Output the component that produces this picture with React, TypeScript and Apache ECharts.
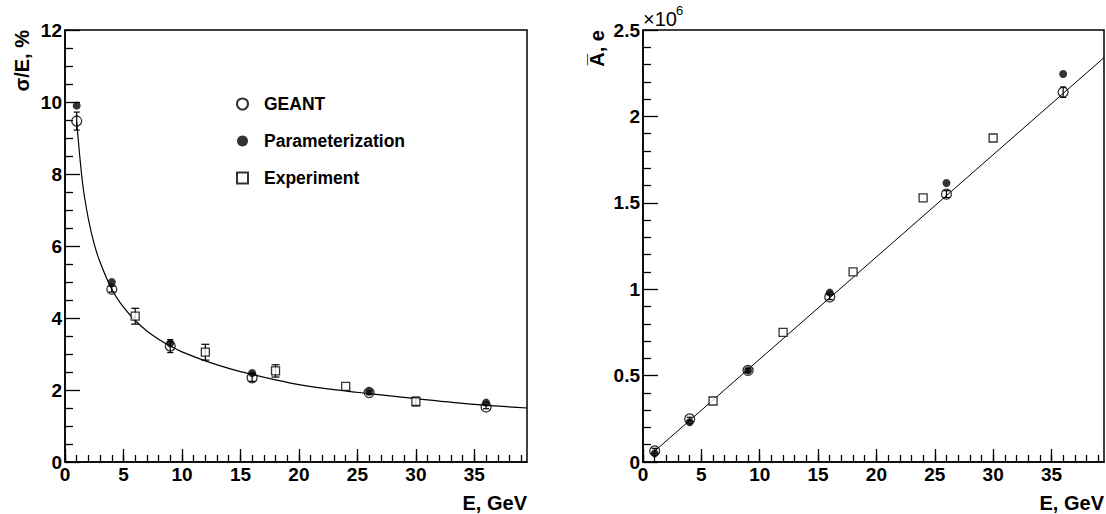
import React, { useEffect, useRef } from "react";
import * as echarts from "echarts";

// ---- Data ----
const energyGeant = [1, 4, 9, 16, 26, 36];
const resGeant = [9.47, 4.8, 3.22, 2.34, 1.93, 1.53];
const resGeantErr = [0.25, 0.08, 0.18, 0.1, 0.05, 0.05];
const energyParam = [1, 4, 9, 16, 26, 36];
const resParam = [9.9, 5.0, 3.3, 2.47, 1.95, 1.65];
const energyExp = [6, 12, 18, 24, 30];
const resExp = [4.05, 3.05, 2.53, 2.1, 1.68];
const resExpErr = [0.22, 0.22, 0.17, 0.0, 0.12];
const resFitE = [1, 1.5, 2, 2.5, 3, 4, 5, 6, 7, 8, 9, 10, 12, 14, 16, 18, 20, 23, 26, 30, 35, 39.5];
const resFitV = [9.45, 7.75, 6.75, 6.05, 5.55, 4.8, 4.3, 3.93, 3.64, 3.41, 3.22, 3.06, 2.81, 2.6, 2.43, 2.28, 2.15, 2.01, 1.9, 1.76, 1.6, 1.5];

const ampGeant = [0.064, 0.249, 0.53, 0.955, 1.55, 2.14];
const ampGeantErr = [0.015, 0.01, 0.01, 0.015, 0.02, 0.03];
const ampParam = [0.05, 0.23, 0.53, 0.98, 1.615, 2.245];
const ampExp = [0.353, 0.75, 1.1, 1.528, 1.875];
const ampFitE = [1, 39.5];
const ampFitV = [0.063, 2.34];

const eMajorTicks = [0, 5, 10, 15, 20, 25, 30, 35];
const eMinorTicks = Array.from({ length: 40 }, (_, i) => i);
const eMax = 39.5;
const resTickStep = 2;
const resMax = 12;
const ampTickStep = 0.5;
const ampMax = 2.5;

const FONT = "'Liberation Sans', Arial, Helvetica, sans-serif";

const errRender = (capHalf: number) => (params: any, api: any) => {
  const x = api.value(0);
  const lo = api.value(1);
  const hi = api.value(2);
  const p1 = api.coord([x, lo]);
  const p2 = api.coord([x, hi]);
  const style = { stroke: "#000", lineWidth: 1.2, fill: null };
  return {
    type: "group",
    children: [
      { type: "line", shape: { x1: p1[0], y1: p1[1], x2: p2[0], y2: p2[1] }, style },
      { type: "line", shape: { x1: p1[0] - capHalf, y1: p1[1], x2: p1[0] + capHalf, y2: p1[1] }, style },
      { type: "line", shape: { x1: p2[0] - capHalf, y1: p2[1], x2: p2[0] + capHalf, y2: p2[1] }, style },
    ],
  };
};

const zip = (xs: number[], ys: number[]) => xs.map((x, i) => [x, ys[i]]);
const errData = (xs: number[], ys: number[], es: number[]) =>
  xs.map((x, i) => [x, ys[i] - es[i], ys[i] + es[i]]).filter((_, i) => es[i] > 0);

const labelStyle = { fontSize: 19, fontWeight: "bold" as const, color: "#000", fontFamily: FONT };

function majorX(gridIndex: number) {
  return {
    type: "value",
    gridIndex,
    min: 0,
    max: eMax,
    position: "bottom",
    axisLine: { show: true, lineStyle: { color: "#000", width: 1.5 } },
    axisTick: { show: true, inside: true, length: 13, customValues: eMajorTicks, lineStyle: { color: "#000", width: 1.3 } },
    axisLabel: { ...labelStyle, margin: 3, customValues: eMajorTicks },
    splitLine: { show: false },
  };
}
function minorX(gridIndex: number) {
  return {
    type: "value",
    gridIndex,
    min: 0,
    max: eMax,
    position: "bottom",
    offset: 0,
    axisLine: { show: false },
    axisTick: { show: true, inside: true, length: 7, customValues: eMinorTicks, lineStyle: { color: "#000", width: 1.3 } },
    axisLabel: { show: false },
    splitLine: { show: false },
  };
}
function yAx(gridIndex: number, max: number, interval: number, minorSplit: number) {
  return {
    type: "value",
    gridIndex,
    min: 0,
    max,
    interval,
    axisLine: { show: true, lineStyle: { color: "#000", width: 1.5 } },
    axisTick: { show: true, inside: true, length: 15, lineStyle: { color: "#000", width: 1.3 } },
    minorTick: { show: true, splitNumber: minorSplit, length: 8, lineStyle: { color: "#000", width: 1.3 } },
    axisLabel: { ...labelStyle, margin: 3 },
    splitLine: { show: false },
  };
}

const openCircle = { color: "rgba(0,0,0,0)", borderColor: "#000", borderWidth: 1.3 };
const filled = { color: "#000" };
const openSquare = { color: "#fff", borderColor: "#000", borderWidth: 1.3 };

export default function App() {
  const ref = useRef<HTMLDivElement>(null);
  useEffect(() => {
    if (!ref.current) return;
    const chart = echarts.init(ref.current, null, { renderer: "svg" });
    const option: any = {
      animation: false,
      backgroundColor: "#fff",
      textStyle: { fontFamily: FONT },
      grid: [
        { left: 65, top: 30, width: 462, height: 432, show: true, borderColor: "#000", borderWidth: 1.5, backgroundColor: "transparent" },
        { left: 643, top: 30, width: 461, height: 432, show: true, borderColor: "#000", borderWidth: 1.5, backgroundColor: "transparent" },
      ],
      xAxis: [majorX(0), minorX(0), majorX(1), minorX(1)],
      yAxis: [yAx(0, resMax, resTickStep, 4), yAx(1, ampMax, ampTickStep, 5)],
      legend: {
        left: 231,
        top: 90,
        orient: "vertical",
        itemGap: 19,
        itemWidth: 11,
        itemHeight: 11,
        selectedMode: false,
        data: ["GEANT", "Parameterization", "Experiment"],
        textStyle: { fontSize: 17.5, fontWeight: "bold", color: "#000", fontFamily: FONT, lineHeight: 16, padding: [0, 0, 0, 11] },
      },
      graphic: [
        { type: "text", x: 22, y: 30, rotation: Math.PI / 2, style: { text: "σ/E, %", fontSize: 20, fontWeight: "bold", fontFamily: FONT, fill: "#000", align: "right", verticalAlign: "middle" } },
        { type: "text", x: 527, y: 503, style: { text: "E, GeV", fontSize: 20, fontWeight: "bold", fontFamily: FONT, fill: "#000", align: "right", verticalAlign: "middle" } },
        { type: "text", x: 597, y: 30, rotation: Math.PI / 2, style: { text: "A\u0305, e", fontSize: 20, fontWeight: "bold", fontFamily: FONT, fill: "#000", align: "right", verticalAlign: "middle" } },
        { type: "text", x: 1104, y: 503, style: { text: "E, GeV", fontSize: 20, fontWeight: "bold", fontFamily: FONT, fill: "#000", align: "right", verticalAlign: "middle" } },
        { type: "text", x: 643, y: 29, style: { text: "×10", fontSize: 20, fontFamily: FONT, fill: "#000", align: "left", verticalAlign: "bottom" } },
        { type: "text", x: 676, y: 17, style: { text: "6", fontSize: 13, fontFamily: FONT, fill: "#000", align: "left", verticalAlign: "bottom" } },
      ],
      series: [
        { type: "line", xAxisIndex: 0, yAxisIndex: 0, data: zip(resFitE, resFitV), smooth: 0.3, showSymbol: false, symbol: "none", lineStyle: { color: "#000", width: 1.2 }, z: 1, silent: true },
        { type: "custom", xAxisIndex: 0, yAxisIndex: 0, data: errData(energyGeant, resGeant, resGeantErr), renderItem: errRender(3), z: 2, encode: { x: 0, y: [1, 2] } },
        { type: "custom", xAxisIndex: 0, yAxisIndex: 0, data: errData(energyExp, resExp, resExpErr), renderItem: errRender(4), z: 2, encode: { x: 0, y: [1, 2] } },
        { name: "GEANT", type: "scatter", xAxisIndex: 0, yAxisIndex: 0, data: zip(energyGeant, resGeant), symbol: "circle", symbolSize: 10, itemStyle: openCircle, z: 3 },
        { name: "Parameterization", type: "scatter", xAxisIndex: 0, yAxisIndex: 0, data: zip(energyParam, resParam), symbol: "circle", symbolSize: 8, itemStyle: filled, z: 4 },
        { name: "Experiment", type: "scatter", xAxisIndex: 0, yAxisIndex: 0, data: zip(energyExp, resExp), symbol: "rect", symbolSize: 8, itemStyle: openSquare, z: 4 },

        { type: "line", xAxisIndex: 2, yAxisIndex: 1, data: zip(ampFitE, ampFitV), showSymbol: false, symbol: "none", lineStyle: { color: "#000", width: 1 }, z: 1, silent: true },
        { type: "custom", xAxisIndex: 2, yAxisIndex: 1, data: errData(energyGeant, ampGeant, ampGeantErr), renderItem: errRender(3), z: 2, encode: { x: 0, y: [1, 2] } },
        { name: "GEANT", type: "scatter", xAxisIndex: 2, yAxisIndex: 1, data: zip(energyGeant, ampGeant), symbol: "circle", symbolSize: 10, itemStyle: openCircle, z: 3 },
        { name: "Parameterization", type: "scatter", xAxisIndex: 2, yAxisIndex: 1, data: zip(energyParam, ampParam), symbol: "circle", symbolSize: 8, itemStyle: filled, z: 4 },
        { name: "Experiment", type: "scatter", xAxisIndex: 2, yAxisIndex: 1, data: zip(energyExp, ampExp), symbol: "rect", symbolSize: 8, itemStyle: openSquare, z: 4 },
      ],
    };
    chart.setOption(option);
    return () => chart.dispose();
  }, []);
  return <div ref={ref} style={{ position: "absolute", left: 0, top: 0, width: 1106, height: 514 }} />;
}
